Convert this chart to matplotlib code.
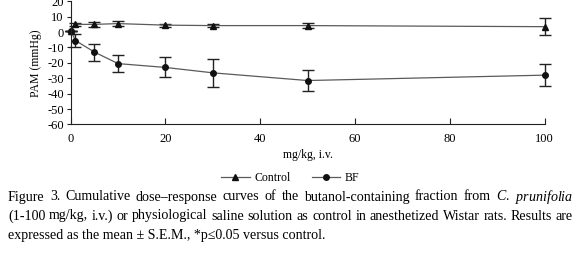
import matplotlib
matplotlib.use("Agg")
import matplotlib.pyplot as plt

plt.rcParams['font.family'] = ['Liberation Serif', 'DejaVu Serif']
plt.rcParams['mathtext.fontset'] = 'custom'
plt.rcParams['mathtext.it'] = 'Liberation Serif:italic'
plt.rcParams['mathtext.rm'] = 'Liberation Serif'
plt.rcParams['axes.unicode_minus'] = False

# doses (mg/kg, i.v.)
doses = [0, 1, 5, 10, 20, 30, 50, 100]

# mean PAM change (mmHg) and S.E.M.
control_mean = [1, 5, 5, 5.5, 4.5, 4.2, 4.2, 3.5]
control_sem = [0, 1, 1.8, 1.8, 1, 1, 1.5, 5.5]
bf_mean = [1, -5.5, -13, -20.5, -23, -26.5, -31.5, -28]
bf_sem = [0, 4, 5.5, 5.5, 6.5, 9, 7, 7]

yticks = [-60, -50, -40, -30, -20, -10, 0, 10, 20]
xticks = [0, 20, 40, 60, 80, 100]

caption1 = ("Figure 3. Cumulative dose\u2013response curves of the butanol-containing "
            "fraction from $\\mathit{C.}$ $\\mathit{prunifolia}$")
caption2 = ("(1-100 mg/kg, i.v.) or physiological saline solution as control in "
            "anesthetized Wistar rats. Results are")
caption3 = "expressed as the mean \u00b1 S.E.M., *p\u22640.05 versus control."

W, H = 575, 257
fig = plt.figure(figsize=(W / 100, H / 100), dpi=100)
ax = fig.add_axes([0.123, 0.516, 0.824, 0.479])

line_col = '#5a5a5a'
ctrl = ax.errorbar(doses, control_mean, yerr=control_sem, color=line_col, lw=0.9,
                   marker='^', ms=5, mfc='#111111', mec='#111111',
                   ecolor='#222222', elinewidth=1.0, capsize=4, capthick=1.0,
                   clip_on=False, label='Control')
bf = ax.errorbar(doses, bf_mean, yerr=bf_sem, color=line_col, lw=0.9,
                 marker='o', ms=4, mfc='#111111', mec='#111111',
                 ecolor='#222222', elinewidth=1.0, capsize=4, capthick=1.0,
                 clip_on=False, label='BF')
for c in (ctrl, bf):
    for part in c.lines[1] + c.lines[2]:
        part.set_clip_on(False)

ax.set_xlim(0, 100)
ax.set_ylim(-60, 20)
ax.set_xticks(xticks)
ax.set_yticks(yticks)
ax.spines['top'].set_visible(False)
ax.spines['right'].set_visible(False)
ax.spines['left'].set_color('#222222')
ax.spines['bottom'].set_color('#222222')
ax.tick_params(axis='x', direction='in', length=4, labelsize=9, pad=6, color='#222222')
ax.tick_params(axis='y', direction='out', length=3, labelsize=9, pad=2, color='#222222')
ax.set_xlabel('mg/kg, i.v.', fontsize=8.5, labelpad=3)
ax.set_ylabel('PAM (mmHg)', fontsize=8.5, labelpad=4)

handles = [plt.Line2D([], [], color=line_col, lw=0.9, marker='^', ms=5,
                      mfc='#111111', mec='#111111'),
           plt.Line2D([], [], color=line_col, lw=0.9, marker='o', ms=4,
                      mfc='#111111', mec='#111111')]
fig.legend(handles, ['Control', 'BF'], loc='center', bbox_to_anchor=(0.505, 0.307),
           ncol=2, frameon=False, fontsize=8.5, handlelength=2.4,
           handletextpad=0.4, columnspacing=1.8)

# caption: first two lines justified between x0 and x1
x0, x1 = 8, 573
renderer = fig.canvas.get_renderer()


def justified(text, ypix, fs):
    words = text.split(' ')
    items = [fig.text(0, 1 - ypix / H, w, fontsize=fs, va='baseline', ha='left')
             for w in words]
    widths = [t.get_window_extent(renderer).width for t in items]
    gap = (x1 - x0 - sum(widths)) / (len(words) - 1)
    x = x0
    for t, w in zip(items, widths):
        t.set_x(x / W)
        x += w + gap


fs = 10.1
justified(caption1, 200.5, fs)
justified(caption2, 219.5, fs)
fig.text(x0 / W, 1 - 238.5 / H, caption3, fontsize=fs, va='baseline', ha='left')

fig.savefig('out.png', dpi=100)
